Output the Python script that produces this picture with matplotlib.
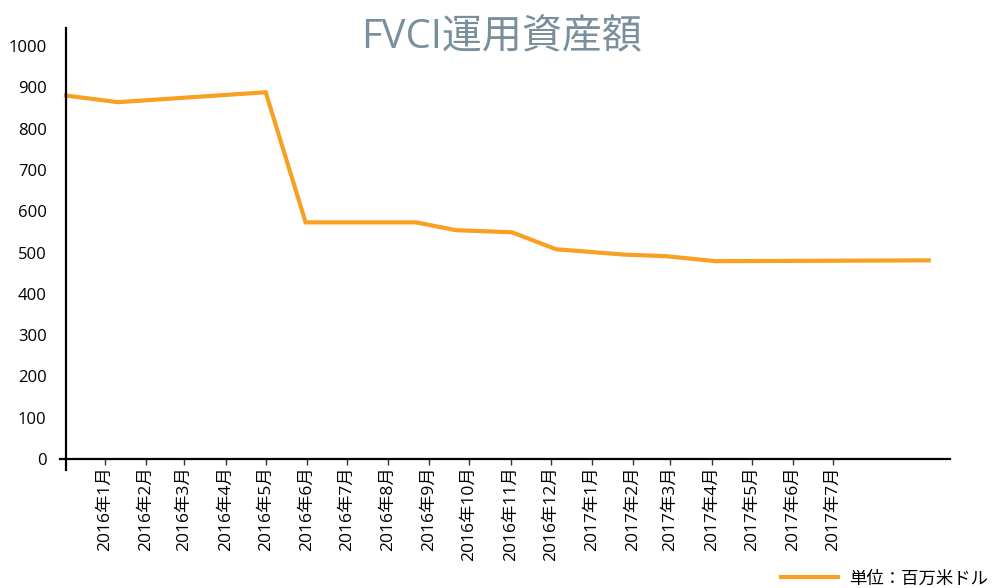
import matplotlib
matplotlib.use("Agg")
import matplotlib.pyplot as plt
import matplotlib.dates as mdates
import numpy as np
import pandas as pd

plt.rcParams['font.family'] = ['Open Sans', 'Noto Sans CJK JP', 'DejaVu Sans']

# Data
dates = ["2015-12-03", "2016-01-11", "2016-05-01", "2016-05-31", "2016-08-22",
         "2016-09-21", "2016-11-02", "2016-12-05", "2017-01-25", "2017-02-26",
         "2017-04-04", "2017-09-11"]
values = [880, 864, 888, 573, 573, 554, 549, 508, 495, 491, 479, 481]
tick_dates = pd.date_range("2016-01-01", "2017-07-01", freq="MS")
tick_labels = [f"{d.year}年{d.month}月" for d in tick_dates]
y_ticks = [0, 100, 200, 300, 400, 500, 600, 700, 800, 900, 1000]
title = "FVCI運用資産額"
legend_label = "単位：百万米ドル"

x = pd.to_datetime(dates)

fig = plt.figure(figsize=(9.93, 5.88), dpi=100)
ax = fig.add_axes([60/993, 1-470/588, 890/993, 442/588])

color = "#F7A021"
ax.plot(x, values, color=color, lw=3, solid_joinstyle='miter', label=legend_label)

x0 = mdates.date2num(x[0])
ax.set_xlim(x0 - 4.5, mdates.date2num(pd.Timestamp("2017-09-27")))
ax.set_ylim(-26.6, 1043.6)

ax.spines['top'].set_visible(False)
ax.spines['right'].set_visible(False)
ax.spines['left'].set_position(('data', x0))
ax.spines['bottom'].set_position(('data', 0))
for s in ['left', 'bottom']:
    ax.spines[s].set_linewidth(1.6)
    ax.spines[s].set_color('black')

ax.set_yticks(y_ticks)
ax.set_yticklabels([str(v) for v in y_ticks])
ax.tick_params(axis='y', length=0, pad=14, labelsize=12, labelcolor='black')

ax.set_xticks(tick_dates)
ax.set_xticklabels(tick_labels, rotation=90)
ax.tick_params(axis='x', length=4, width=1, color='#333333', pad=1.5,
               labelsize=12.5, direction='out')

fig.text(502/993, 1-38/588, title, ha='center', va='center',
         fontsize=28.8, color='#7A8F9C')

leg = ax.legend(loc='lower right', bbox_to_anchor=(1.0, -0.008),
                bbox_transform=fig.transFigure, frameon=False,
                fontsize=12.5, handlelength=3.3, borderpad=0.2,
                handletextpad=0.6, borderaxespad=0.1)

fig.savefig("out.png", dpi=100)
